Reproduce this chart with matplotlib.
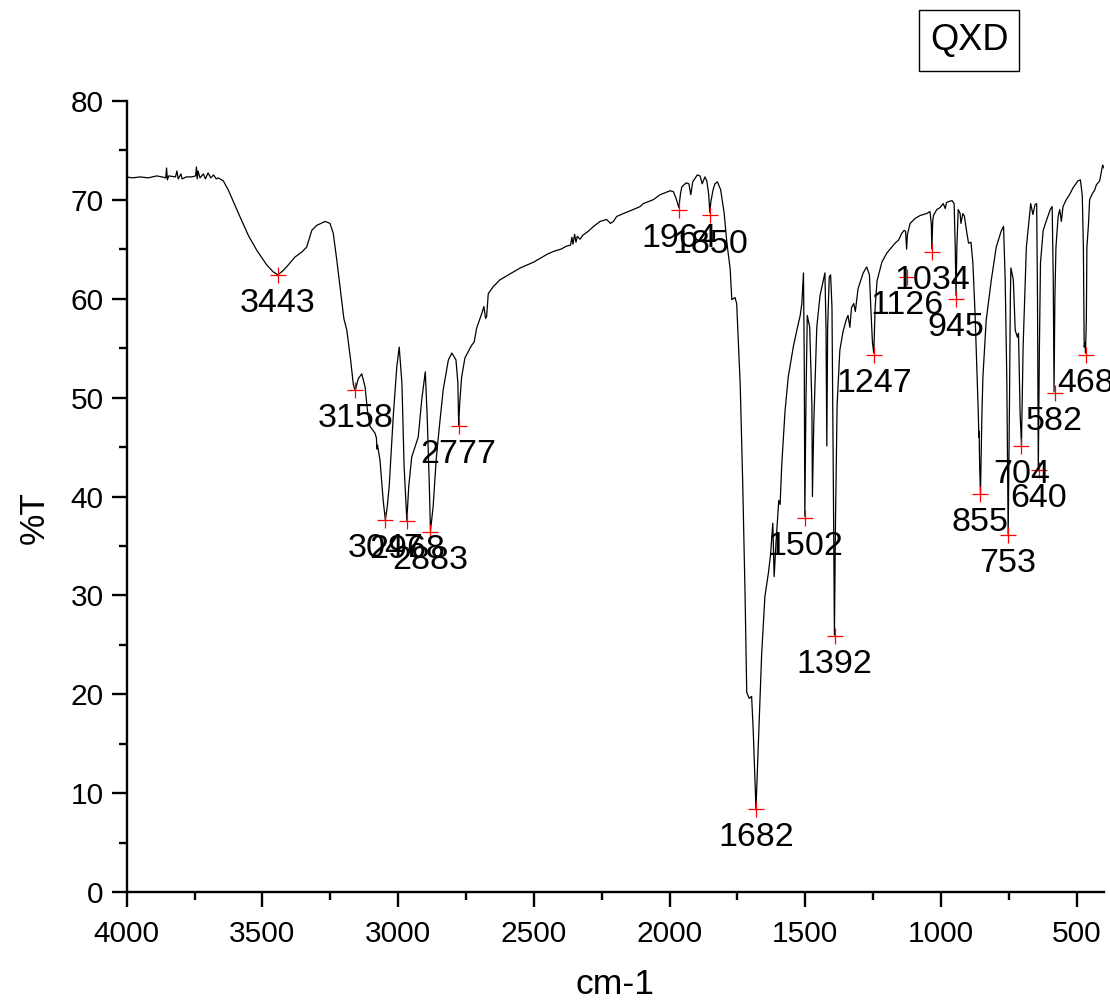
import matplotlib
matplotlib.use("Agg")
import matplotlib.pyplot as plt
from matplotlib.patches import Rectangle
from matplotlib.ticker import MultipleLocator

plt.rcParams['font.family'] = ['Liberation Sans', 'DejaVu Sans']

# FT-IR transmittance spectrum of QXD (wavenumber in cm-1, transmittance in %)
wavenumber = [
    4000, 3980, 3950, 3920, 3890, 3870, 3856, 3853, 3850, 3845, 3820, 3815, 3810,
    3800, 3796, 3780, 3760, 3746, 3743, 3740, 3737, 3730, 3717, 3710, 3700, 3690,
    3680, 3670, 3663, 3644, 3626, 3607, 3583, 3552, 3521, 3484, 3460, 3443, 3425,
    3411, 3380, 3355, 3337, 3318, 3300, 3269, 3251, 3239, 3226, 3214, 3200, 3189,
    3175, 3165, 3158, 3147, 3134, 3122, 3113, 3104, 3085, 3080, 3078, 3076, 3067,
    3055, 3047, 3040, 3033, 3018, 3005, 2996, 2986, 2978, 2968, 2961, 2950, 2938,
    2926, 2913, 2900, 2893, 2885, 2881, 2871, 2860, 2848, 2834, 2815, 2802, 2787,
    2780, 2777, 2773, 2766, 2754, 2729, 2720, 2711, 2692, 2684, 2678, 2674, 2668,
    2650, 2625, 2600, 2575, 2550, 2525, 2500, 2475, 2450, 2425, 2400, 2380, 2365,
    2360, 2356, 2350, 2345, 2340, 2330, 2320, 2300, 2280, 2256, 2232, 2218, 2207,
    2195, 2170, 2134, 2109, 2097, 2060, 2035, 1998, 1986, 1976, 1966, 1960, 1955,
    1939, 1929, 1922, 1915, 1898, 1888, 1880, 1870, 1863, 1856, 1852, 1848, 1840,
    1833, 1824, 1812, 1799, 1789, 1777, 1771, 1765, 1759, 1753, 1740, 1731, 1722,
    1716, 1707, 1698, 1692, 1682, 1674, 1661, 1649, 1636, 1628, 1620, 1615, 1608,
    1598, 1593, 1587, 1575, 1563, 1544, 1529, 1519, 1513, 1507, 1504, 1502, 1498,
    1493, 1484, 1476, 1474, 1469, 1458, 1446, 1434, 1428, 1424, 1421, 1418, 1412,
    1407, 1402, 1397, 1393, 1389, 1383, 1373, 1361, 1349, 1343, 1336, 1330, 1322,
    1316, 1306, 1287, 1274, 1264, 1259, 1253, 1248, 1243, 1236, 1218, 1200, 1176,
    1166, 1157, 1145, 1136, 1131, 1127, 1124, 1114, 1096, 1077, 1053, 1041, 1036,
    1034, 1031, 1028, 1016, 1004, 992, 985, 980, 973, 960, 952, 948, 945, 942,
    937, 930, 927, 920, 914, 905, 899, 890, 883, 875, 869, 863, 861, 860, 858,
    855, 852, 850, 846, 834, 815, 797, 779, 770, 764, 758, 753, 748, 745, 743,
    734, 727, 719, 715, 709, 704, 698, 686, 670, 662, 654, 648, 645, 642, 638,
    634, 624, 612, 598, 591, 587, 584, 581, 577, 569, 563, 557, 551, 539, 527,
    514, 496, 487, 480, 476, 473, 470, 468, 465, 463, 457, 453, 443, 434, 428,
    416, 410, 405, 400,
]
transmittance = [
    72.3, 72.2, 72.3, 72.2, 72.4, 72.3, 72.2, 73.2, 72.0, 72.4, 72.3, 72.9, 72.1,
    72.6, 72.1, 72.3, 72.3, 72.4, 73.3, 72.1, 72.9, 72.2, 72.6, 72.1, 72.7, 72.2,
    72.5, 72.1, 72.2, 71.9, 71.0, 69.8, 68.3, 66.4, 64.9, 63.4, 62.7, 62.4, 62.8,
    63.2, 64.2, 64.7, 65.2, 66.9, 67.4, 67.8, 67.6, 66.6, 63.9, 61.2, 58.0, 56.8,
    53.8, 51.3, 50.7, 51.9, 52.4, 51.1, 48.7, 47.1, 46.4, 45.9, 44.8, 45.2, 43.7,
    39.6, 37.6, 39.0, 41.0, 48.1, 53.1, 55.1, 51.4, 43.0, 37.6, 41.0, 44.0, 45.0,
    46.0, 49.8, 52.6, 48.1, 41.0, 36.5, 39.0, 43.7, 47.1, 50.8, 53.8, 54.5, 53.8,
    51.5, 47.2, 49.5, 52.1, 54.0, 55.3, 55.6, 57.0, 58.5, 59.2, 58.0, 58.2, 60.5,
    61.2, 61.9, 62.3, 62.7, 63.1, 63.4, 63.7, 64.1, 64.5, 64.8, 65.0, 65.3, 65.4,
    66.2, 65.5, 66.5, 65.7, 66.3, 66.0, 66.4, 66.8, 67.3, 67.8, 68.0, 67.6, 67.8,
    68.3, 68.6, 69.0, 69.3, 69.6, 70.0, 70.5, 70.9, 70.8, 70.1, 69.2, 70.6, 71.3,
    71.7, 71.6, 70.5, 71.8, 72.5, 72.4, 71.6, 72.3, 71.9, 70.5, 68.7, 69.8, 71.0,
    71.6, 71.8, 71.0, 68.6, 65.6, 63.0, 59.9, 60.0, 60.1, 59.5, 51.3, 41.6, 29.9,
    20.2, 19.6, 19.8, 16.3, 8.4, 14.4, 24.1, 29.9, 32.3, 34.2, 37.3, 31.9, 35.4,
    39.6, 39.2, 43.2, 48.6, 52.1, 55.2, 57.1, 58.3, 59.5, 62.6, 53.3, 38.0, 49.3,
    58.3, 57.1, 49.3, 40.0, 47.4, 57.1, 60.3, 61.8, 62.6, 57.1, 45.1, 57.1, 62.2,
    62.4, 59.1, 41.6, 26.0, 37.7, 49.3, 54.8, 56.7, 57.9, 58.3, 57.1, 59.1, 59.5,
    58.7, 61.0, 62.6, 63.2, 62.4, 59.1, 55.6, 54.5, 59.1, 61.8, 63.7, 64.6, 65.4,
    65.7, 65.9, 66.6, 66.9, 66.8, 65.0, 66.5, 67.6, 68.1, 68.4, 68.6, 68.8, 67.5,
    65.0, 67.8, 68.4, 69.0, 69.2, 69.6, 69.1, 69.7, 69.8, 69.9, 69.6, 65.2, 60.3, 65.2,
    69.0, 68.6, 67.6, 68.6, 68.3, 66.6, 65.6, 65.7, 63.6, 58.5, 53.5, 48.4, 46.0, 46.6, 43.0,
    40.3, 45.0, 48.0, 52.1, 57.8, 61.9, 65.2, 66.8, 67.3, 61.9, 51.8, 36.2, 50.0, 60.0, 63.1,
    61.9, 56.8, 56.1, 56.5, 48.4, 45.2, 55.1, 65.2, 69.6, 68.5, 69.5, 69.6, 60.0, 42.6, 55.0,
    63.6, 66.9, 67.9, 69.0, 69.3, 62.0, 50.6, 60.0, 65.2, 68.3, 69.0, 67.8, 69.3, 70.0, 70.5,
    71.2, 71.9, 72.0, 70.4, 65.2, 55.1, 55.5, 54.5, 58.0, 65.2, 67.6, 70.0, 70.6, 71.0, 71.5,
    71.9, 72.8, 73.5, 73.2,
]

# Picked absorption bands
peak_wn = [3443, 3158, 3047, 2968, 2883, 2777, 1964, 1850, 1682, 1502, 1392,
           1247, 1126, 1034, 945, 855, 753, 704, 640, 582, 468]
peak_t = [62.4, 50.8, 37.6, 37.5, 36.4, 47.1, 69.0, 68.4, 8.4, 37.8, 25.9,
          54.3, 62.2, 64.7, 60.0, 40.3, 36.1, 45.1, 42.7, 50.5, 54.3]

sample_name = "QXD"

fig = plt.figure(figsize=(11.10, 10.06), dpi=100)
ax = fig.add_axes([0.1141, 0.1130, 0.8805, 0.7869])

ax.plot(wavenumber, transmittance, color='black', lw=0.9)
ax.plot(peak_wn, peak_t, linestyle='none', marker='+', color='red',
        markersize=11, markeredgewidth=0.9)
for w, t in zip(peak_wn, peak_t):
    ax.annotate(str(w), (w, t), xytext=(0, -9.5), textcoords='offset points',
                ha='center', va='top', fontsize=24.5, color='black',
                annotation_clip=False)

ax.set_xlim(4000, 400)
ax.set_ylim(0, 80)
ax.xaxis.set_major_locator(MultipleLocator(500))
ax.xaxis.set_minor_locator(MultipleLocator(250))
ax.yaxis.set_major_locator(MultipleLocator(10))
ax.yaxis.set_minor_locator(MultipleLocator(5))

for side in ('top', 'right'):
    ax.spines[side].set_visible(False)
for side in ('left', 'bottom'):
    ax.spines[side].set_linewidth(1.7)

ax.tick_params(which='major', direction='out', length=10.5, width=1.7,
               labelsize=21.5)
ax.tick_params(axis='x', which='major', pad=9.5)
ax.tick_params(axis='y', which='major', pad=6)
ax.tick_params(which='minor', direction='out', length=6, width=1.7)

ax.set_xlabel('cm-1', fontsize=25.5)
ax.xaxis.set_label_coords(0.5, -0.095)
ax.set_ylabel('%T', fontsize=25.5)
ax.yaxis.set_label_coords(-0.078, 0.473)

# Sample name box in the upper right corner
fig.patches.append(Rectangle((0.8279, 0.9294), 0.0901, 0.0606,
                             transform=fig.transFigure, fill=False,
                             edgecolor='black', lw=1.0))
fig.text(0.873, 0.9597, sample_name, ha='center', va='center', fontsize=26)

fig.savefig('out.png', dpi=100)
